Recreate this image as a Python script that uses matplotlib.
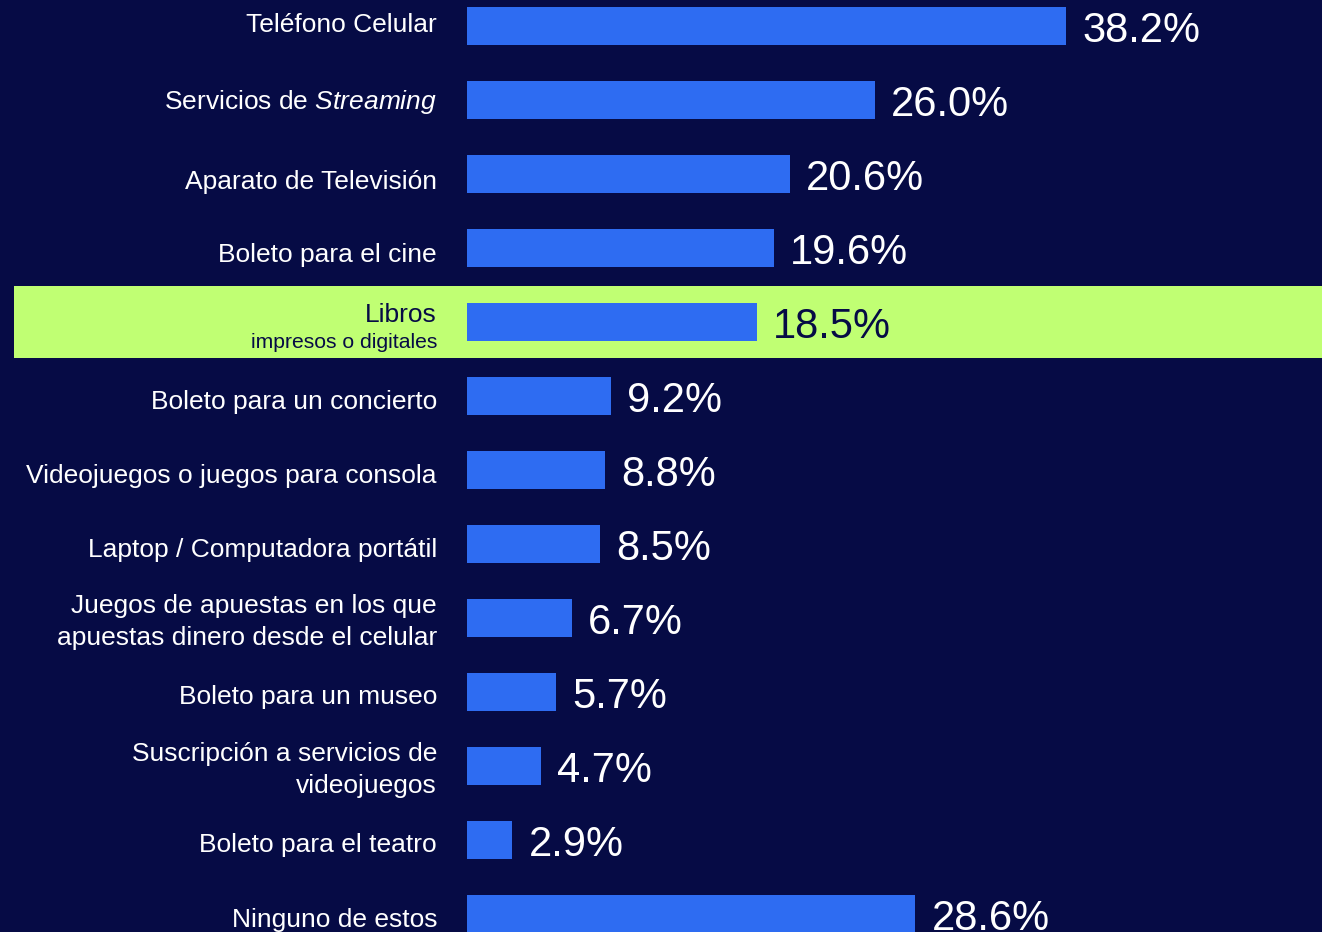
import matplotlib
matplotlib.use("Agg")
import matplotlib.pyplot as plt
import matplotlib.transforms as mtransforms
from matplotlib.patches import Rectangle

categories = [
    "Teléfono Celular",
    r"Servicios de $\mathit{Streaming}$",
    "Aparato de Televisión",
    "Boleto para el cine",
    "Libros",
    "Boleto para un concierto",
    "Videojuegos o juegos para consola",
    "Laptop / Computadora portátil",
    "Juegos de apuestas en los que\napuestas dinero desde el celular",
    "Boleto para un museo",
    "Suscripción a servicios de\nvideojuegos",
    "Boleto para el teatro",
    "Ninguno de estos",
]
values = [38.2, 26.0, 20.6, 19.6, 18.5, 9.2, 8.8, 8.5, 6.7, 5.7, 4.7, 2.9, 28.6]
highlight_index = 4
highlight_sub = "impresos o digitales"

# vertical nudges of single-line category labels (pixels, baseline below bar centre)
label_drop = [6, 9, 15, 14, 0, 13, 13, 13, 0, 12, 0, 12, 13]

BG = "#060B45"
BAR = "#2E6CF2"
LIME = "#C0FF73"

plt.rcParams["font.family"] = ["Liberation Sans", "DejaVu Sans"]
plt.rcParams["mathtext.fontset"] = "custom"
plt.rcParams["mathtext.rm"] = "Liberation Sans"
plt.rcParams["mathtext.it"] = "Liberation Sans:italic"

W, H = 1322, 932
fig = plt.figure(figsize=(W / 100, H / 100), dpi=100, facecolor=BG)
left_px = 467
ax = fig.add_axes([left_px / W, 0, 1 - left_px / W, 1])
ax.set_facecolor("none")

px_per_unit = 15.68
row_px = 74
first_center = 26
ax.set_xlim(0, (W - left_px) / px_per_unit)
ax.set_ylim((H - first_center) / row_px, -first_center / row_px)
for s in ax.spines.values():
    s.set_visible(False)
ax.set_xticks([])
ax.set_yticks([])

# highlight band
trans = mtransforms.blended_transform_factory(fig.transFigure, ax.transData)
band = Rectangle((14 / W, highlight_index - 0.49), 1, 0.98,
                 transform=trans, facecolor=LIME, edgecolor="none",
                 zorder=0.5, clip_on=False)
ax.add_patch(band)

ypos = list(range(len(values)))
ax.barh(ypos, values, height=38 / row_px, color=BAR, zorder=2)

for i, (cat, v) in enumerate(zip(categories, values)):
    hl = i == highlight_index
    col = BG if hl else "white"
    ax.annotate(f"{v:.1f}%", xy=(v, i), xytext=(16, -16), textcoords="offset pixels",
                ha="left", va="baseline", fontsize=30, color=col, zorder=3)
    if hl:
        ax.annotate(cat, xy=(0, i), xytext=(-30, 0), textcoords="offset pixels",
                    ha="right", va="baseline", fontsize=19, color=col, zorder=3)
        ax.annotate(highlight_sub, xy=(0, i), xytext=(-30, -26), textcoords="offset pixels",
                    ha="right", va="baseline", fontsize=15.2, color=col, zorder=3)
    elif "\n" in cat:
        ax.annotate(cat, xy=(0, i), xytext=(-30, -4), textcoords="offset pixels",
                    ha="right", va="center", fontsize=19, color=col,
                    linespacing=1.42, zorder=3)
    else:
        ax.annotate(cat, xy=(0, i), xytext=(-30, -label_drop[i]), textcoords="offset pixels",
                    ha="right", va="baseline", fontsize=19, color=col, zorder=3)

fig.savefig("out.png", dpi=100, facecolor=BG)
